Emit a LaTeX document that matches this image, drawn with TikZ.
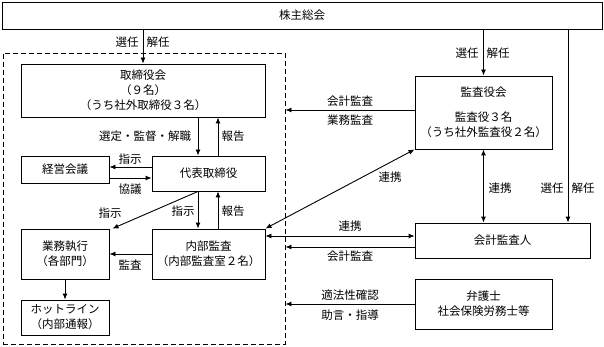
\documentclass[tikz,border=0pt]{standalone}
\usepackage{fontspec}
\setmainfont{Noto Sans CJK JP}
\usetikzlibrary{arrows.meta}

\begin{document}
\begin{tikzpicture}[x=1pt, y=-1pt, >={Latex[length=6pt,width=5pt]}, line width=0.9pt,
    box/.style={draw, inner sep=0pt, align=center, font=\fontsize{11.5}{15}\selectfont},
    lbl/.style={inner sep=0pt, font=\fontsize{11.5}{15}\selectfont},
    frame/.style={draw, dash pattern=on 5pt off 3pt, inner sep=0pt}]
    \useasboundingbox (0,0) rectangle (604,347);

    % --- GORA ---
    \node[box, minimum width=600pt, minimum height=27pt] (kabu) at (302,15.5) {株主総会};

    % --- RAMKA (wewnatrz spolki) ---
    \node[frame, minimum width=282pt, minimum height=291pt] (waku) at (144,198.5) {};

    % --- LEWA STRONA ---
    \node[box, minimum width=244pt, minimum height=53pt] (tori) at (143,90.5)
        {取締役会\\（９名）\\（うち社外取締役３名）};
    \node[box, minimum width=88pt, minimum height=27pt] (keiei) at (65,169.5) {経営会議};
    \node[box, minimum width=113pt, minimum height=35pt] (daihyo) at (208.5,173.5) {代表取締役};
    \node[box, minimum width=88pt, minimum height=50pt] (gyomu) at (65,254) {業務執行\\（各部門）};
    \node[box, minimum width=113pt, minimum height=50pt] (naibu) at (208.5,254) {内部監査\\（内部監査室２名）};
    \node[box, minimum width=88pt, minimum height=35pt] (hotline) at (65,317.5) {ホットライン\\（内部通報）};

    % --- PRAWA STRONA ---
    \node[box, minimum width=137pt, minimum height=73pt] (kansayaku) at (483.5,112.5)
        {監査役会\\[10pt]監査役３名\\（うち社外監査役２名）};
    \node[box, minimum width=175pt, minimum height=35pt] (kaikei) at (502.5,240.5) {会計監査人};
    \node[box, minimum width=137pt, minimum height=50pt] (bengo) at (483.5,304) {弁護士\\社会保険労務士等};

    % pomocnicze wspolrzedne
    \coordinate (yShiji) at (0,167);
    \coordinate (yKyogi) at (0,178);
    \coordinate (xDown) at (198,0);
    \coordinate (xUp) at (218,0);
    \coordinate (yKansa) at (0,110);
    \coordinate (yRenkei) at (0,236);
    \coordinate (yKaikei) at (0,247);
    \coordinate (xRight) at (568,0);

    % --- STRZALKI ---
    % wybor / odwolanie
    \draw[->] (kabu.south -| tori.north) -- (tori.north);
    \draw[->] (kabu.south -| kansayaku.north) -- (kansayaku.north);
    \draw[->] (kabu.south -| xRight) -- (kaikei.north -| xRight);
    \node[lbl] (senA) at (127,42) {選任};
    \node[lbl] (kaiA) at (158,42) {解任};
    \node[lbl] (senB) at (467,53) {選任};
    \node[lbl] (kaiB) at (498,53) {解任};
    \node[lbl] (senC) at (552,188) {選任};
    \node[lbl] (kaiC) at (583,188) {解任};

    % zarzad
    \draw[->] (tori.south -| xDown) -- (daihyo.north -| xDown);
    \draw[->] (daihyo.north -| xUp) -- (tori.south -| xUp);
    \node[lbl] (sentei) at (145,136) {選定・監督・解職};
    \node[lbl] (hokokuA) at (233,136) {報告};

    \draw[->] (daihyo.west |- yShiji) -- (keiei.east |- yShiji);
    \draw[->] (keiei.east |- yKyogi) -- (daihyo.west |- yKyogi);
    \node[lbl] (shijiA) at (130,159) {指示};
    \node[lbl] (kyogi) at (130,189) {協議};

    \draw[->] (daihyo.south -| xDown) -- ([xshift=3pt]gyomu.north east);
    \draw[->] (daihyo.south -| xDown) -- (naibu.north -| xDown);
    \draw[->] (naibu.north -| xUp) -- (daihyo.south -| xUp);
    \node[lbl] (shijiB) at (110,213) {指示};
    \node[lbl] (shijiC) at (183,211) {指示};
    \node[lbl] (hokokuB) at (233,211) {報告};

    \draw[->] (naibu.west) -- (gyomu.east);
    \node[lbl] (kansaA) at (130,265) {監査};
    \draw[->] (gyomu.south) -- (hotline.north);

    % audyt
    \draw[->] (kansayaku.west |- yKansa) -- (waku.east |- yKansa);
    \node[lbl] (kaikeiA) at (350,101) {会計監査};
    \node[lbl] (gyomuA) at (350,120) {業務監査};

    \draw[<->] (naibu.north east) -- (kansayaku.south west);
    \node[lbl] (renkeiA) at (390,177) {連携};
    \draw[<->] (kansayaku.south) -- (kaikei.north -| kansayaku.south);
    \node[lbl] (renkeiB) at (500,188) {連携};

    \draw[<->] (naibu.east |- yRenkei) -- (kaikei.west |- yRenkei);
    \node[lbl] (renkeiC) at (350,226) {連携};
    \draw[->] (kaikei.west |- yKaikei) -- (waku.east |- yKaikei);
    \node[lbl] (kaikeiB) at (350,256) {会計監査};

    \draw[->] (bengo.west) -- (waku.east |- bengo.west);
    \node[lbl] (tekiho) at (350,295) {適法性確認};
    \node[lbl] (jogen) at (350,315) {助言・指導};

\end{tikzpicture}
\end{document}
